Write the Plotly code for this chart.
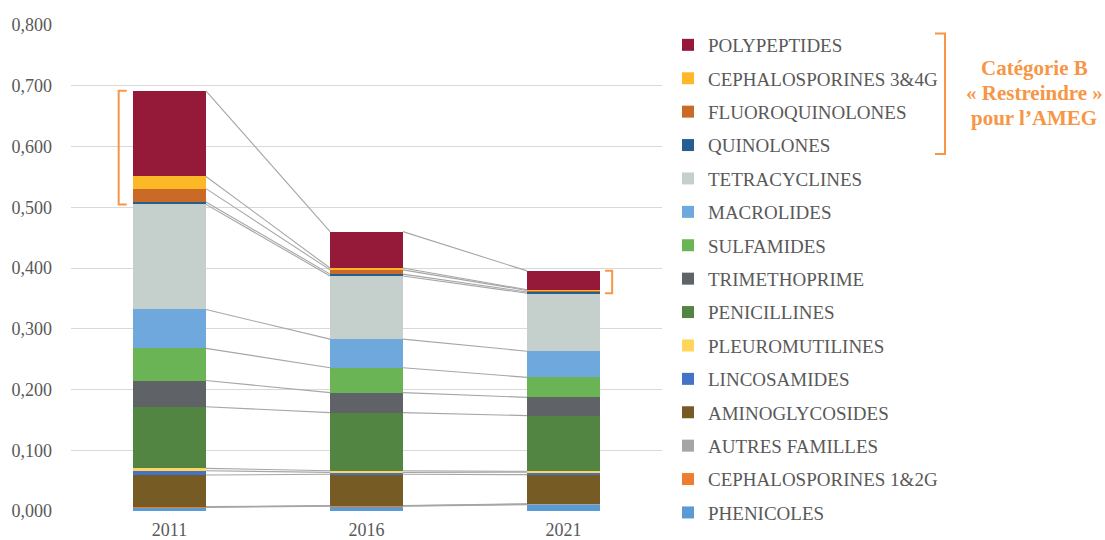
import plotly.graph_objects as go

# ---------------- data ----------------
years = ["2011", "2016", "2021"]

phenicoles = [0.006, 0.008, 0.0105]
cephalosporines_12g = [0.0006, 0.0005, 0.0008]
autres_familles = [0.0006, 0.0005, 0.0005]
aminoglycosides = [0.052, 0.0514, 0.048]
lincosamides = [0.007, 0.0032, 0.0042]
pleuromutilines = [0.004, 0.0027, 0.0014]
penicillines = [0.1015, 0.0956, 0.0916]
trimethoprime = [0.043, 0.033, 0.030]
sulfamides = [0.053, 0.041, 0.033]
macrolides = [0.064, 0.047, 0.043]
tetracyclines = [0.173, 0.104, 0.0955]
quinolones = [0.004, 0.003, 0.002]
fluoroquinolones = [0.022, 0.007, 0.0025]
cephalosporines_34g = [0.020, 0.003, 0.0013]
polypeptides = [0.141, 0.060, 0.031]

# stacking order, bottom -> top
series = [
    ("PHENICOLES", phenicoles, "#5B9BD5"),
    ("CEPHALOSPORINES 1&2G", cephalosporines_12g, "#ED7D31"),
    ("AUTRES FAMILLES", autres_familles, "#A5A5A5"),
    ("AMINOGLYCOSIDES", aminoglycosides, "#775B24"),
    ("LINCOSAMIDES", lincosamides, "#4472C4"),
    ("PLEUROMUTILINES", pleuromutilines, "#FFD55A"),
    ("PENICILLINES", penicillines, "#528542"),
    ("TRIMETHOPRIME", trimethoprime, "#5F6266"),
    ("SULFAMIDES", sulfamides, "#6AB456"),
    ("MACROLIDES", macrolides, "#6FA8DC"),
    ("TETRACYCLINES", tetracyclines, "#C5D0CD"),
    ("QUINOLONES", quinolones, "#255E91"),
    ("FLUOROQUINOLONES", fluoroquinolones, "#C96A27"),
    ("CEPHALOSPORINES 3&4G", cephalosporines_34g, "#FDB827"),
    ("POLYPEPTIDES", polypeptides, "#951A3A"),
]
n_cat_b = 4  # top four series form "Catégorie B"
cat_b_lines = ["Catégorie B", "« Restreindre »", "pour l’AMEG"]

# ---------------- layout constants ----------------
W, H = 1105, 540
ML, MR, MT, MB = 71, 443, 25, 29
PW, PH = W - ML - MR, H - MT - MB
BAR_W = 0.37
SERIF = "Liberation Serif, Times New Roman, serif"
TXT = "#595959"
ORANGE = "#F79646"


def px_x(p):
    return (p - ML) / PW


def px_y(p):
    return (H - MB - p) / PH


xs = list(range(len(years)))
fig = go.Figure()

nser = len(series)
for k, (name, vals, col) in enumerate(series):
    fig.add_trace(go.Bar(
        x=xs, y=vals, name=name, legendgroup=name,
        legendrank=nser - k,
        marker=dict(color=col, line=dict(width=0)),
        width=BAR_W,
    ))

# series connector lines (cumulative tops)
cum = [0.0] * len(years)
tops = []
for name, vals, col in series:
    cum = [c + v for c, v in zip(cum, vals)]
    tops.append(list(cum))

lx, ly = [], []
for t in tops:
    for i in range(len(years) - 1):
        lx += [xs[i] + BAR_W / 2, xs[i + 1] - BAR_W / 2, None]
        ly += [t[i], t[i + 1], None]
fig.add_trace(go.Scatter(x=lx, y=ly, mode="lines", showlegend=False,
                         line=dict(color="#A6A6A6", width=1.1), hoverinfo="skip"))

# brackets around Catégorie B on 2011 (left) and 2021 (right)
top_2011 = tops[-1][0]
bot_2011 = tops[-1 - n_cat_b][0]
xl = xs[0] - BAR_W / 2
fig.add_shape(type="path", xref="x", yref="y",
              path=f"M {xl-0.032},{top_2011} L {xl-0.073},{top_2011} L {xl-0.073},{bot_2011} L {xl-0.032},{bot_2011}",
              line=dict(color=ORANGE, width=2))
top_2021 = tops[-1][2]
bot_2021 = tops[-1 - n_cat_b][2]
xr = xs[2] + BAR_W / 2
fig.add_shape(type="path", xref="x", yref="y",
              path=f"M {xr+0.026},{top_2021} L {xr+0.062},{top_2021} L {xr+0.062},{bot_2021} L {xr+0.026},{bot_2021}",
              line=dict(color=ORANGE, width=2))

# bracket next to legend
bx, bx0 = px_x(945), px_x(935)
by0, by1 = px_y(33.5), px_y(154)
fig.add_shape(type="path", xref="paper", yref="paper",
              path=f"M {bx0},{by0} L {bx},{by0} L {bx},{by1} L {bx0},{by1}",
              line=dict(color=ORANGE, width=2))

for line_txt, ypx in zip(cat_b_lines, [68, 93, 118]):
    fig.add_annotation(xref="paper", yref="paper", x=px_x(1034), y=px_y(ypx),
                       text=line_txt, showarrow=False,
                       xanchor="center", yanchor="middle",
                       font=dict(family=SERIF, size=21, color=ORANGE, weight="bold"))

fig.update_layout(
    width=W, height=H,
    margin=dict(l=ML, r=MR, t=MT, b=MB, pad=0, autoexpand=False),
    barmode="stack",
    plot_bgcolor="white", paper_bgcolor="white",
    separators=", ",
    font=dict(family=SERIF, color=TXT, size=18),
    showlegend=True,
    legend=dict(
        xref="container", yref="container",
        x=668 / W, y=1 - 26 / H, xanchor="left", yanchor="top",
        traceorder="grouped", tracegroupgap=5.7,
        maxheight=600,
        font=dict(family=SERIF, size=19, color=TXT),
        bgcolor="rgba(0,0,0,0)", itemclick=False, itemdoubleclick=False,
    ),
    xaxis=dict(
        range=[-0.5, 2.5], tickvals=xs, ticktext=years,
        showgrid=False, zeroline=False, showline=False, ticks="",
        tickfont=dict(family=SERIF, size=18, color=TXT),
        ticklabelstandoff=6, automargin=False,
    ),
    yaxis=dict(
        range=[0, 0.8], dtick=0.1, tickformat=".3f",
        showgrid=True, gridcolor="#D9D9D9", gridwidth=1,
        zeroline=False, showline=False, ticks="",
        tickfont=dict(family=SERIF, size=18, color=TXT),
        ticklabelstandoff=18, automargin=False,
    ),
)

fig.write_html(
    "out.html",
    config={"displayModeBar": False},
    post_script="document.body.style.margin='0';document.body.style.overflow='hidden';",
)
